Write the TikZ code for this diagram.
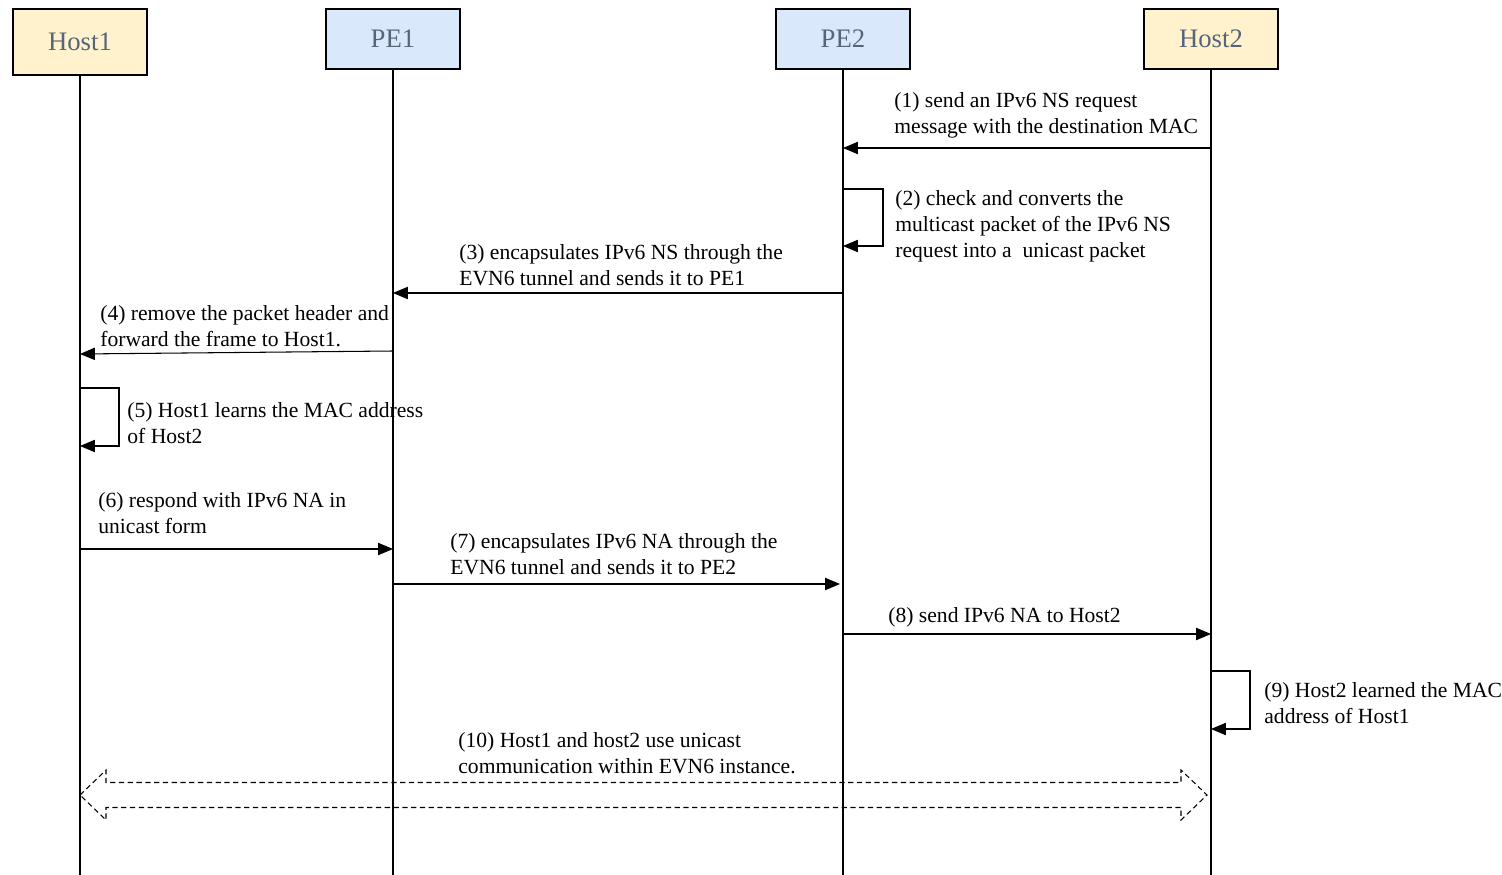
\documentclass[tikz,border=0pt]{standalone}
\usepackage{fontspec}
\setmainfont{Liberation Serif}
\usepackage{tikz}
\usetikzlibrary{arrows.meta}
\usetikzlibrary{calc}
\definecolor{hostfill}{HTML}{FFF2CC}
\definecolor{pefill}{HTML}{DAE8FC}
\definecolor{boxtext}{HTML}{56657C}
\tikzset{tips=proper}
\tikzset{%
    actor/.style={rectangle, draw, line width=0.6pt, minimum width=2.68cm, minimum height=1.2cm,
        text=boxtext, font=\fontsize{15.2}{17}\selectfont},
    host/.style={actor, fill=hostfill},
    pe/.style={actor, fill=pefill},
    life/.style={draw, line width=0.6pt},
    msg/.style={draw, line width=0.6pt, -{Triangle[length=8.5pt, width=7pt]}},
    lbl/.style={anchor=west, align=left, inner sep=0pt, yshift=-1pt, font=\fontsize{12.3}{14.8}\selectfont},
    both/.style={draw, line width=0.6pt, dash pattern=on 3pt off 2pt}
}
\begin{document}
\begin{tikzpicture}[x=0.02cm, y=-0.02cm]
    \useasboundingbox (0,0) rectangle (1502,875);
    % participants
    \node[host, minimum height=1.32cm] (host1) at (80,42) {Host1};
    \node[pe] (pe1) at (393,39) {PE1};
    \node[pe] (pe2) at (843,39) {PE2};
    \node[host] (host2) at (1211,39) {Host2};
    \foreach \p in {host1, pe1, pe2, host2}
        \draw[life] (\p.south) -- (\p.south |- 0,875);

    % (1)
    \draw[msg] (host2 |- 0,148) -- (pe2 |- 0,148);
    \node[lbl] (l1) at (894,114) {(1) send an IPv6 NS request\\message with the destination MAC};
    % (2)
    \draw[msg] (pe2 |- 0,189) -- ++(40,0) |- (pe2 |- 0,246);
    \node[lbl] (l2) at (895,225) {(2) check and converts the\\multicast packet of the IPv6 NS\\request into a\ \ unicast packet};
    % (3)
    \draw[msg] (pe2 |- 0,293) -- (pe1 |- 0,293);
    \node[lbl] (l3) at (459,263) {(3) encapsulates IPv6 NS through the\\EVN6 tunnel and sends it to PE1};
    % (4)
    \draw[msg] (pe1 |- 0,351) -- (host1 |- 0,354);
    \node[lbl] (l4) at (100,324.5) {(4) remove the packet header and\\forward the frame to Host1.};
    % (5)
    \draw[msg] (host1 |- 0,388) -- ++(39,0) |- (host1 |- 0,446);
    \node[lbl] (l5) at (127,421) {(5) Host1 learns the MAC address\\of Host2};
    % (6)
    \draw[msg] (host1 |- 0,549) -- (pe1 |- 0,549);
    \node[lbl] (l6) at (98,511) {(6) respond with IPv6 NA in\\unicast form};
    % (7)
    \draw[msg] (pe1 |- 0,584) -- ($(pe2 |- 0,584)+(-3,0)$);
    \node[lbl] (l7) at (450,552.5) {(7) encapsulates IPv6 NA through the\\EVN6 tunnel and sends it to PE2};
    % (8)
    \draw[msg] (pe2 |- 0,634) -- (host2 |- 0,634);
    \node[lbl] (l8) at (888,616) {(8) send IPv6 NA to Host2};
    % (9)
    \draw[msg] (host2 |- 0,671) -- ++(39,0) |- (host2 |- 0,729);
    \node[lbl] (l9) at (1264,701) {(9) Host2 learned the MAC\\address of Host1};
    % (10)
    \coordinate (ltip) at (host1 |- 0,795);
    \coordinate (rtip) at ($(host2 |- 0,795)+(-4,0)$);
    \draw[both] (ltip) -- ++(26,-25) -- ++(0,12.5) -- ($(rtip)+(-26,-12.5)$) -- ++(0,-12.5)
        -- (rtip) -- ++(-26,25) -- ++(0,-12.5) -- ($(ltip)+(26,12.5)$) -- ++(0,12.5) -- cycle;
    \node[lbl] (l10) at (458,751) {(10) Host1 and host2 use unicast\\communication within EVN6 instance.};
\end{tikzpicture}
\end{document}
